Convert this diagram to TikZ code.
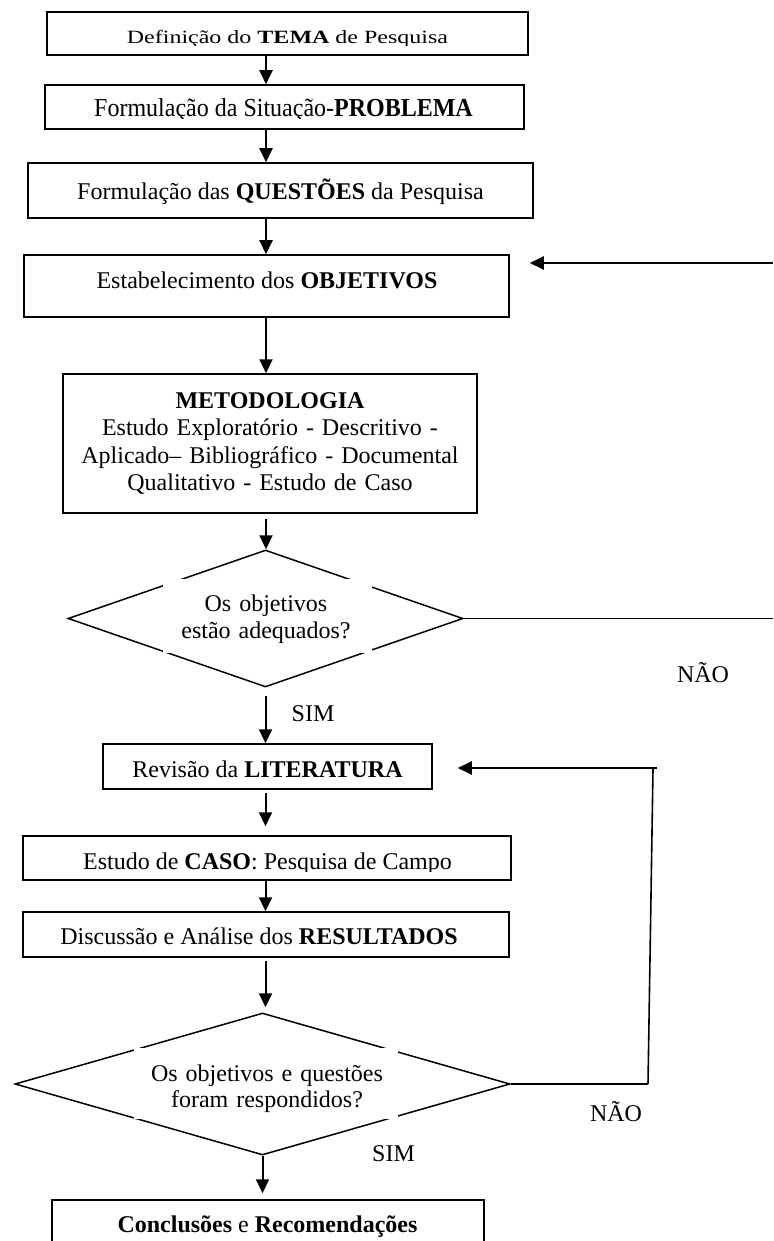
\documentclass[tikz,border=0pt]{standalone}
\usepackage{fontspec}
\setmainfont{Liberation Serif}
\usetikzlibrary{arrows.meta,shapes.geometric}

\begin{document}
\begin{tikzpicture}[x=1pt,y=-1pt,
  every node/.style={font=\fontsize{24}{27.5}\selectfont},
  box/.style={draw,line width=1.5pt,inner sep=0pt,rectangle},
  decision/.style={draw,line width=1.5pt,diamond,inner sep=0pt,aspect=2},
  txt/.style={inner sep=0pt,anchor=base},
  multi/.style={inner sep=0pt,anchor=base,align=center,text width=#1},
  arr/.style={line width=2pt,-{Triangle[length=14pt,width=13pt]}},
  wire/.style={line width=1.6pt}]

\clip (0,0) rectangle (773,1241);
\fill[white] (0,0) rectangle (773,1241);

% process boxes
\node[box,minimum width=481pt,minimum height=43pt] (b1) at (287.5,33.5) {};
\node[box,minimum width=479pt,minimum height=44pt] (b2) at (284.5,107) {};
\node[box,minimum width=505pt,minimum height=55pt] (b3) at (280.5,190.5) {};
\node[box,minimum width=485pt,minimum height=62pt] (b4) at (266.5,286) {};
\node[box,minimum width=414pt,minimum height=139pt] (bm) at (270,443.5) {};
\node[box,minimum width=329pt,minimum height=45pt] (bl) at (267.5,766.5) {};
\node[box,minimum width=488pt,minimum height=44pt] (bc) at (267,858) {};
\node[box,minimum width=486pt,minimum height=45pt] (br) at (266,934.5) {};
\node[box,minimum width=432pt,minimum height=60pt] (bk) at (268,1230) {};

% box texts (some are cut off at the lower edge of their text frame)
\begin{scope}
  \clip (48,13) rectangle (527,46);
  \node[txt] (t1) at (287.5,44) {\scalebox{1}[0.78]{Definição do \textbf{TEMA} de Pesquisa}};
\end{scope}
\begin{scope}
  \clip (46,86) rectangle (523,119);
  \node[txt] (t2) at (283.5,117) {\scalebox{1}[1.08]{Formulação da Situação-\textbf{PROBLEMA}}};
\end{scope}
\node[txt] (t3) at (280.5,200) {Formulação das \textbf{QUESTÕES} da Pesquisa};
\node[txt] (t4) at (267,288) {Estabelecimento dos \textbf{OBJETIVOS}};
\node[multi=410pt] (tm) at (270,408) {\textbf{METODOLOGIA}\\
  Estudo Exploratório - Descritivo -\\
  Aplicado– Bibliográfico - Documental\\
  Qualitativo - Estudo de Caso};
\node[txt] (tl) at (267.5,777) {Revisão da \textbf{LITERATURA}};
\begin{scope}
  \clip (24,837) rectangle (510,871.5);
  \node[txt] (tc) at (267.5,869) {Estudo de \textbf{CASO}: Pesquisa de Campo};
\end{scope}
\node[txt] (tr) at (259,944) {Discussão e Análise dos \textbf{RESULTADOS}};
\node[txt] (tk) at (267.5,1232) {\textbf{Conclusões} e \textbf{Recomendações}};

% decisions, partly covered by their white text frames
\node[decision,minimum width=395pt,minimum height=137pt] (d1) at (265.5,618.5) {};
\fill[white] (163,579) rectangle (372,653);
\node[multi=300pt] (td1) at (266,611) {Os objetivos\\estão adequados?};

\node[decision,minimum width=495pt,minimum height=142pt] (d2) at (262.5,1084) {};
\fill[white] (134,1048) rectangle (398,1119);
\node[multi=320pt,font=\fontsize{24}{26.5}\selectfont] (td2) at (267,1081) {Os objetivos e questões\\foram respondidos?};

% answer labels
\node[txt] (n1) at (703,682) {NÃO};
\node[txt] (s1) at (313,721) {SIM};
\node[txt] (n2) at (616,1121.5) {NÃO};
\node[txt] (s2) at (393.5,1161) {SIM};

% main flow
\coordinate (ax) at (266,0);
\draw[arr] (b1.south -| ax) -- (b2.north -| ax);
\draw[arr] (b2.south -| ax) -- (b3.north -| ax);
\draw[arr] (b3.south -| ax) -- (b4.north -| ax);
\draw[arr] (b4.south -| ax) -- (bm.north -| ax);
\draw[arr,shorten <=5pt] (bm.south -| ax) -- (d1.north -| ax);
\draw[arr,shorten <=8pt] (d1.south) -- (bl.north -| d1.south);
\draw[arr,shorten <=3pt,shorten >=9pt] (bl.south -| d1.south) -- (bc.north -| d1.south);
\draw[arr] (bc.south -| d1.south) -- (br.north -| d1.south);
\draw[arr,shorten <=3pt,shorten >=5pt] (br.south -| d1.south) -- (d2.north -| d1.south);
\draw[arr,shorten >=6pt] (d2.south) -- (bk.north -| d2.south);

% return paths on the right
\coordinate (r1) at (773,263);
\coordinate (r2) at (773,618.5);
\draw[arr,shorten >=20pt] (r1) -- (r1 -| b4.east);
\draw[wire] (d1.east) -- (r2);

\coordinate (lb) at (648,1084);
\coordinate (lt) at (653,769);
\coordinate (ltr) at (657,768);
\draw[wire] (d2.east) -- (lb);
\draw[wire] (lb) -- (lt);
\draw[arr,shorten >=25pt] (ltr) -- (ltr -| bl.east);
\end{tikzpicture}
\end{document}
